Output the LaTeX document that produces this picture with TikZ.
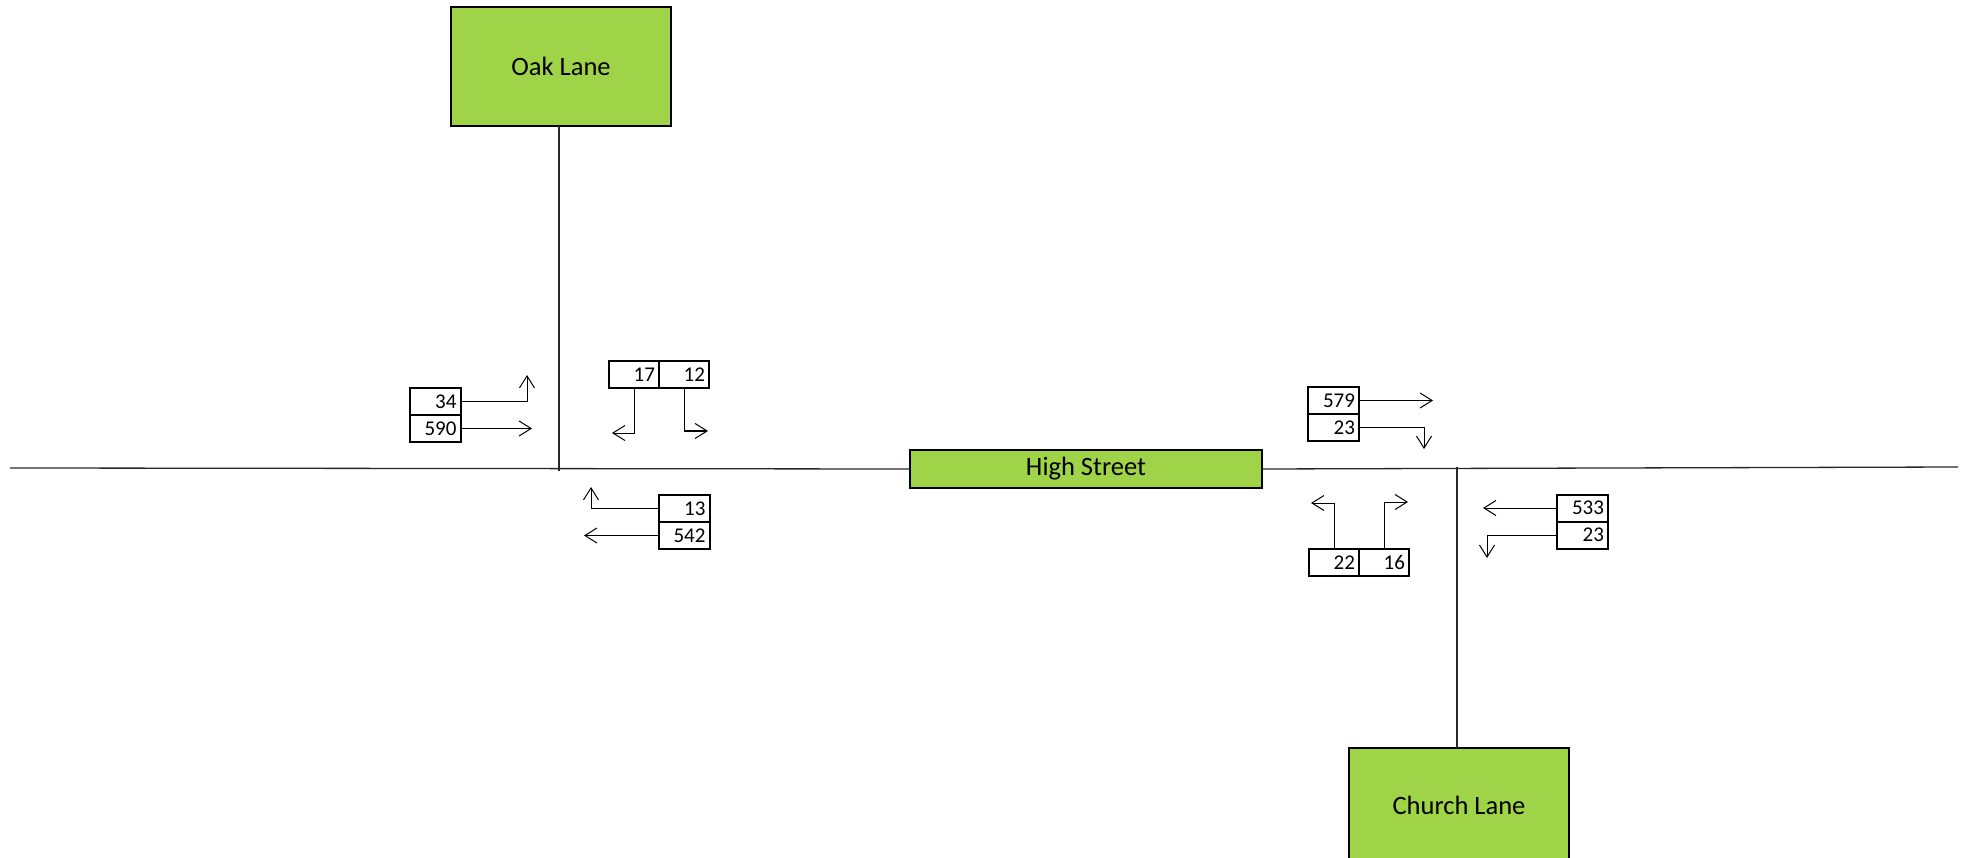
\documentclass[tikz,border=0pt]{standalone}
\usepackage{fontspec}
\setmainfont{Carlito}
\usetikzlibrary{positioning,arrows.meta}
\definecolor{roadgreen}{RGB}{159,211,72}
\begin{document}
\begin{tikzpicture}[x=1pt,y=-1pt,
	street/.style={draw=black,line width=2pt,fill=roadgreen,outer sep=0pt,font=\fontsize{26.5}{30}\selectfont},
	cell/.style={draw=black,line width=2pt,outer sep=0pt,minimum height=27pt,inner ysep=0pt,inner xsep=4pt,text width=43pt,align=right,font=\fontsize{21}{24}\selectfont},
	road/.style={line width=1.3pt,black!85},
	flow/.style={line width=1pt,-{Straight Barb[length=12pt,width=15pt,line width=1pt]}}]
	\clip (0,0) rectangle (1968,858); %page
	
	%streets
	\node[street,minimum width=220pt,minimum height=119pt] (oak) at (561,66.5) {Oak Lane}; %Oak Lane
	\node[street,minimum width=352pt,minimum height=38pt] (high) at (1086,469) {High Street}; %High Street
	\node[street,minimum width=220pt,minimum height=114pt] (church) at (1459,805) {Church Lane}; %Church Lane
	
	%road lines
	\coordinate (west) at (10,468); %left end
	\coordinate (east) at (1958,467); %right end
	\coordinate (oakend) at (559,471); %Oak Lane end
	\coordinate (churchend) at (1457,467); %Church Lane end
	\draw[road] (west) -- (high.west); %High Street west
	\draw[road] (high.east) -- (east); %High Street east
	\draw[road] (oak.south -| oakend) -- (oakend); %Oak Lane
	\draw[road] (church.north -| churchend) -- (churchend); %Church Lane
	
	%Oak Lane junction-----------------------------------
		%from the west
		\node[cell] (c34) at (435,401.5) {34}; %right turn
		\node[cell,below=0pt of c34] (c590) {590}; %ahead
		\coordinate (t34) at (527,375); %tip 34
		\coordinate (t590) at (532,428.5); %tip 590
		\draw[flow] (c34.east) -| (t34); %arrow 34
		\draw[flow] (c590.east) -- (t590); %arrow 590
		
		%from Oak Lane
		\node[cell,text width=42pt] (c17) at (634,374.5) {17}; %right turn
		\node[cell,text width=42pt,right=0pt of c17] (c12) {12}; %left turn
		\coordinate (t17) at (612,433); %tip 17
		\coordinate (t12) at (708,431); %tip 12
		\draw[flow] (c17.south) |- (t17); %arrow 17
		\draw[flow] (c12.south) |- (t12); %arrow 12
		
		%from the east
		\node[cell] (c13) at (684,508.5) {13}; %left turn
		\node[cell,below=0pt of c13] (c542) {542}; %ahead
		\coordinate (t13) at (591,487); %tip 13
		\coordinate (t542) at (584,535.5); %tip 542
		\draw[flow] (c13.west) -| (t13); %arrow 13
		\draw[flow] (c542.west) -- (t542); %arrow 542
	
	%Church Lane junction--------------------------------
		%from the west
		\node[cell] (c579) at (1333.5,400.5) {579}; %ahead
		\node[cell,below=0pt of c579] (c23a) {23}; %right turn
		\coordinate (t579) at (1433,400.5); %tip 579
		\coordinate (t23a) at (1424,449); %tip 23
		\draw[flow] (c579.east) -- (t579); %arrow 579
		\draw[flow] (c23a.east) -| (t23a); %arrow 23
		
		%from Church Lane
		\node[cell,text width=42pt] (c22) at (1334,562.5) {22}; %left turn
		\node[cell,text width=42pt,right=0pt of c22] (c16) {16}; %right turn
		\coordinate (t22) at (1311,503); %tip 22
		\coordinate (t16) at (1408,502); %tip 16
		\draw[flow] (c22.north) |- (t22); %arrow 22
		\draw[flow] (c16.north) |- (t16); %arrow 16
		
		%from the east
		\node[cell] (c533) at (1582.5,508) {533}; %ahead
		\node[cell,below=0pt of c533] (c23b) {23}; %left turn
		\coordinate (t533) at (1483,508); %tip 533
		\coordinate (t23b) at (1487,558); %tip 23
		\draw[flow] (c533.west) -- (t533); %arrow 533
		\draw[flow] (c23b.west) -| (t23b); %arrow 23
		
\end{tikzpicture}
\end{document}
